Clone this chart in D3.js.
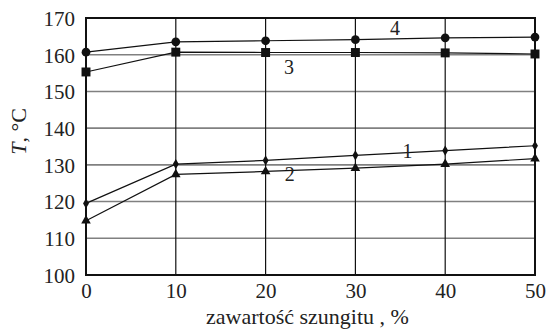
<!DOCTYPE html>
<html>
<head>
<meta charset="utf-8">
<script src="https://cdn.jsdelivr.net/npm/d3@7"></script>
<style>
  body { margin: 0; background: #fff; }
  svg text { font-family: "Liberation Serif", "DejaVu Serif", serif !important; fill: #222; }
</style>
</head>
<body>
<svg id="chart" width="553" height="329"></svg>
<script>
// data
const xVals = [0, 10, 20, 30, 40, 50];
const curve1 = [119.5, 130.2, 131.2, 132.6, 133.9, 135.2];
const curve2 = [114.8, 127.4, 128.2, 129.1, 130.2, 131.7];
const curve3 = [155.3, 160.7, 160.6, 160.6, 160.5, 160.2];
const curve4 = [160.7, 163.5, 163.8, 164.1, 164.6, 164.8];
const xTicks = [0, 10, 20, 30, 40, 50];
const yTicks = [100, 110, 120, 130, 140, 150, 160, 170];
const curveNames = ["1", "2", "3", "4"];

let margin = { top: 18, right: 18, bottom: 54, left: 86 };
let width = 553 - margin.left - margin.right;
let height = 329 - margin.top - margin.bottom;

let svg = d3.select("#chart")
    .append("g")
    .attr("transform", "translate(" + margin.left + "," + margin.top + ")");

let xScale = d3.scaleLinear().domain([0, 50]).range([0, width]);
let yScale = d3.scaleLinear().domain([100, 170]).range([height, 0]);

// horizontal grid (gray)
svg.append("g")
    .selectAll("line")
    .data(yTicks.slice(1, -1))
    .enter().append("line")
    .attr("x1", 0).attr("x2", width)
    .attr("y1", d => yScale(d)).attr("y2", d => yScale(d))
    .attr("stroke", "#808080").attr("stroke-width", 1.6);

// vertical grid (black)
svg.append("g")
    .selectAll("line")
    .data(xTicks.slice(1, -1))
    .enter().append("line")
    .attr("x1", d => xScale(d)).attr("x2", d => xScale(d))
    .attr("y1", 0).attr("y2", height)
    .attr("stroke", "#111").attr("stroke-width", 1.2);

// frame
svg.append("rect")
    .attr("x", 0).attr("y", 0)
    .attr("width", width).attr("height", height)
    .attr("fill", "none").attr("stroke", "#111").attr("stroke-width", 2);

// axes (labels only)
let xAxis = d3.axisBottom(xScale).tickValues(xTicks).tickSize(0).tickPadding(8);
let yAxis = d3.axisLeft(yScale).tickValues(yTicks).tickSize(0).tickPadding(11);

let gx = svg.append("g")
    .attr("transform", "translate(0," + height + ")")
    .call(xAxis);
gx.select(".domain").remove();
gx.attr("font-family", null);
gx.selectAll("text").attr("font-size", 21).attr("fill", "#222");

let gy = svg.append("g").call(yAxis);
gy.select(".domain").remove();
gy.attr("font-family", null);
gy.selectAll("text").attr("font-size", 21).attr("fill", "#222").attr("dy", "0.35em");

let line = d3.line()
    .x((d, i) => xScale(xVals[i]))
    .y(d => yScale(d));

let series = [curve1, curve2, curve3, curve4];
series.forEach(function(vals) {
    svg.append("path")
        .datum(vals)
        .attr("d", line)
        .attr("fill", "none")
        .attr("stroke", "#111")
        .attr("stroke-width", 1.2);
});

// markers
let sym = [
    d3.symbol().type(d3.symbolDiamond).size(30),
    d3.symbol().type(d3.symbolTriangle).size(40),
    d3.symbol().type(d3.symbolSquare).size(80),
    d3.symbol().type(d3.symbolCircle).size(60)
];
series.forEach(function(vals, k) {
    svg.append("g")
        .selectAll("path")
        .data(vals)
        .enter().append("path")
        .attr("d", sym[k])
        .attr("transform", (d, i) => "translate(" + xScale(xVals[i]) + "," + yScale(d) + ")")
        .attr("fill", "#111");
});

// curve numbers
let labelPos = [[35.8, 133.8], [22.7, 127.6], [22.6, 156.6], [34.4, 167.3]];
labelPos.forEach(function(p, k) {
    svg.append("text")
        .attr("x", xScale(p[0])).attr("y", yScale(p[1]))
        .attr("text-anchor", "middle")
        .attr("dy", "0.35em")
        .attr("font-size", 20)
        .text(curveNames[k]);
});

// axis titles
svg.append("text")
    .attr("x", width / 2 - 3)
    .attr("y", height + 49)
    .attr("text-anchor", "middle")
    .attr("font-size", 22)
    .text("zawartość szungitu , %");

let yt = svg.append("text")
    .attr("transform", "translate(" + (-60) + "," + (height / 2 - 15) + ") rotate(-90)")
    .attr("text-anchor", "middle")
    .attr("font-size", 22);
yt.append("tspan").attr("font-style", "italic").text("T");
yt.append("tspan").text(", °C");
</script>
</body>
</html>
